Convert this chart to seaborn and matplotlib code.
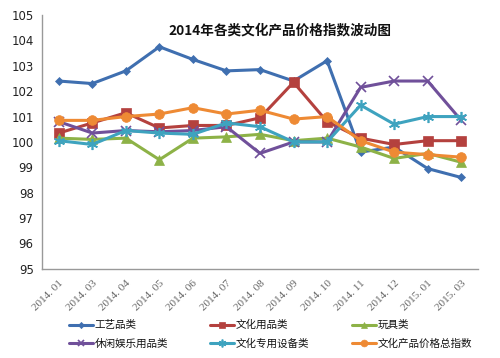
import numpy as np
import pandas as pd
import seaborn as sns
import matplotlib
matplotlib.use('Agg')
import matplotlib.pyplot as plt

months = ['2014. 01', '2014. 03', '2014. 04', '2014. 05', '2014. 06', '2014. 07', '2014. 08',
          '2014. 09', '2014. 10', '2014. 11', '2014. 12', '2015. 01', '2015. 03']

crafts = [102.4, 102.3, 102.8, 103.75, 103.25, 102.8, 102.85, 102.4, 103.2, 99.6, 99.8, 98.95, 98.6]
stationery = [100.35, 100.75, 101.15, 100.55, 100.65, 100.65, 100.95, 102.35, 100.8, 100.15, 99.9, 100.05, 100.05]
toys = [100.15, 100.1, 100.15, 99.3, 100.15, 100.2, 100.3, 100.05, 100.15, 99.8, 99.35, 99.55, 99.2]
leisure = [100.8, 100.35, 100.45, 100.4, 100.45, 100.6, 99.55, 100.0, 100.0, 102.15, 102.4, 102.4, 100.85]
equipment = [100.05, 99.9, 100.45, 100.35, 100.3, 100.75, 100.6, 100.0, 100.0, 101.45, 100.7, 101.0, 101.0]
total = [100.85, 100.85, 101.0, 101.1, 101.35, 101.1, 101.25, 100.9, 101.0, 100.05, 99.6, 99.5, 99.4]

series_names = ['工艺品类', '文化用品类', '玩具类', '休闲娱乐用品类', '文化专用设备类', '文化产品价格总指数']
series_values = [crafts, stationery, toys, leisure, equipment, total]
colors = ['#3F6FB0', '#B4413E', '#8DB247', '#70509A', '#3EA3BF', '#EE8A34']
markers = ['D', 's', '^', 'x', (6, 2, 0), 'o']
sizes = [4.5, 6.5, 6.5, 7, 8, 7]

rows = []
for name, vals in zip(series_names, series_values):
    for i, v in enumerate(vals):
        rows.append({'series': name, 'pos': i, 'value': v})
df = pd.DataFrame(rows)

sns.set_style('white')
plt.rcParams['font.family'] = ['Noto Sans CJK SC', 'DejaVu Sans']

fig = plt.figure(figsize=(5.0, 3.58), dpi=100)
ax = fig.add_axes([0.084, 0.249, 0.872, 0.709])

for name, col, mk, ms in zip(series_names, colors, markers, sizes):
    sub = df[df['series'] == name]
    sns.lineplot(data=sub, x='pos', y='value', ax=ax, color=col, marker=mk,
                 markersize=ms, markeredgecolor=col, markeredgewidth=1.2 if mk in ('x', (6, 2, 0)) else 0.5,
                 linewidth=2.2, label=name, legend=False)

ax.set_xlim(-0.5, len(months) - 0.5)
ax.set_ylim(95, 105)
ax.set_yticks(range(95, 106))
ax.set_yticklabels([str(v) for v in range(95, 106)], fontsize=8.5, family='DejaVu Sans', color='#222222')
ax.set_xticks(range(len(months)))
ax.set_xticklabels(months, rotation=45, ha='right', rotation_mode='anchor',
                   fontsize=8, family='Liberation Serif', color='#666666')
ax.set_xticks(np.arange(-0.5, len(months)), minor=True)
ax.tick_params(axis='x', which='major', length=0, pad=7)
ax.tick_params(axis='x', which='minor', length=4, color='#999999', direction='out')
ax.tick_params(axis='y', length=4, color='#999999', direction='out', pad=2)
ax.set_xlabel('')
ax.set_ylabel('')
for s in ['top', 'right']:
    ax.spines[s].set_visible(False)
for s in ['left', 'bottom']:
    ax.spines[s].set_color('#999999')
    ax.spines[s].set_linewidth(1.0)

ax.set_title('2014年各类文化产品价格指数波动图', fontsize=9.8, fontweight='bold',
             x=0.545, y=0.89, color='#111111')

handles, labels = ax.get_legend_handles_labels()
order = [0, 3, 1, 4, 2, 5]
fig.legend([handles[i] for i in order], [labels[i] for i in order],
           loc='lower left', bbox_to_anchor=(0.118, 0.0), ncol=3,
           frameon=False, fontsize=7.6, handlelength=2.3, handletextpad=0.15,
           columnspacing=4.0, labelspacing=0.75, markerscale=0.7, labelcolor='#111111')

fig.savefig('out.png', dpi=100)
